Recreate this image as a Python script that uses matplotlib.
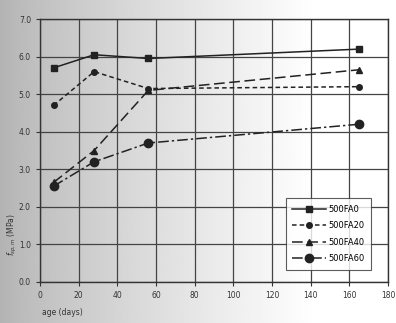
import numpy as np
import matplotlib
matplotlib.use("Agg")
import matplotlib.pyplot as plt

# data
age_days = [7, 28, 56, 165]
fa0 = [5.7, 6.05, 5.95, 6.2]
fa20 = [4.7, 5.6, 5.15, 5.2]
fa40 = [2.65, 3.5, 5.1, 5.65]
fa60 = [2.55, 3.2, 3.7, 4.2]
series_labels = ["500FA0", "500FA20", "500FA40", "500FA60"]
x_ticks = [0, 20, 40, 60, 80, 100, 120, 140, 160, 180]
y_ticks = [0.0, 1.0, 2.0, 3.0, 4.0, 5.0, 6.0, 7.0]

fig = plt.figure(figsize=(3.96, 3.23), dpi=100)

# scanned-paper like background gradient
bg = fig.add_axes([0, 0, 1, 1], zorder=-10)
grad = np.linspace(0, 1, 256)
vals = 0.70 + 0.30 * np.clip(grad * 1.25, 0, 1) ** 0.8
bg.imshow(np.tile(vals, (2, 1)), cmap="gray", vmin=0, vmax=1, aspect="auto",
          extent=[0, 1, 0, 1])
bg.set_axis_off()

ax = fig.add_axes([0.101, 0.127, 0.879, 0.814])
ax.set_facecolor("none")

c = "#222222"
ax.plot(age_days, fa0, color=c, lw=1.1, ls="-", marker="s", ms=5, label=series_labels[0])
ax.plot(age_days, fa20, color=c, lw=1.1, ls=(0, (3, 2)), marker="o", ms=4, label=series_labels[1])
ax.plot(age_days, fa40, color=c, lw=1.1, ls=(0, (7, 3)), marker="^", ms=5, label=series_labels[2])
ax.plot(age_days, fa60, color=c, lw=1.1, ls=(0, (7, 2, 1.5, 2)), marker="o", ms=6, label=series_labels[3])

ax.set_xlim(0, 180)
ax.set_ylim(0, 7)
ax.set_xticks(x_ticks)
ax.set_yticks(y_ticks)
ax.set_yticklabels([f"{v:.1f}" for v in y_ticks])
ax.tick_params(labelsize=5.5, colors="#333333", length=3, width=0.8)
ax.grid(True, color="#444444", lw=0.9)
for s in ax.spines.values():
    s.set_color("#333333")
    s.set_linewidth(1.0)

ax.set_ylabel("$f_{sp,m}$ (MPa)", fontsize=5.5, color="#333333", labelpad=-2)
ax.yaxis.set_label_coords(-0.06, 0.18)
fig.text(0.105, 0.025, "age (days)", fontsize=5.5, color="#333333")

leg = ax.legend(loc="lower right", bbox_to_anchor=(0.963, 0.03), fontsize=6,
                frameon=True, fancybox=False, edgecolor="#333333",
                handlelength=4.0, labelspacing=0.9, borderpad=0.8, handletextpad=0.3)
leg.get_frame().set_linewidth(0.8)

fig.savefig("out.png", dpi=100)
